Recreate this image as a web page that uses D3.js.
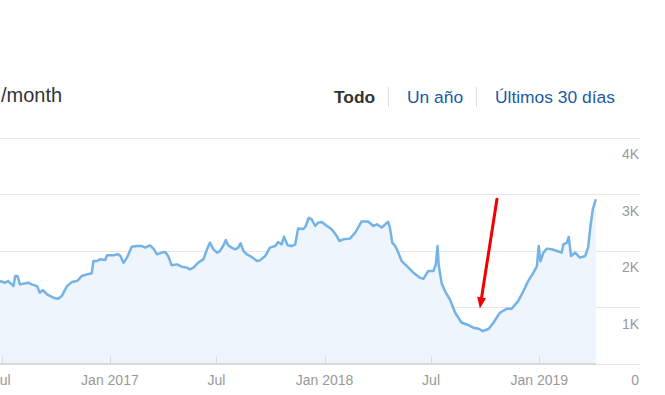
<!DOCTYPE html>
<html>
<head>
<meta charset="utf-8">
<script src="https://cdn.jsdelivr.net/npm/d3@7"></script>
<style>
  body { margin: 0; background: #fff; }
  svg { display: block; font-family: Arial, "Liberation Sans", sans-serif; }
</style>
</head>
<body>
<svg id="chart" width="665" height="395"></svg>
<script>
// monthly visits
const dates = [
  "2016-06-23","2016-06-28","2016-07-07","2016-07-12","2016-07-21","2016-07-24","2016-07-28","2016-08-01","2016-08-15","2016-08-21",
  "2016-08-30","2016-09-04","2016-09-09","2016-09-16","2016-09-27","2016-10-05","2016-10-11","2016-10-20","2016-10-28","2016-11-06",
  "2016-11-14","2016-11-23","2016-12-01","2016-12-04","2016-12-10","2016-12-15","2016-12-24","2016-12-27",
  "2017-01-07","2017-01-15","2017-01-19","2017-01-24","2017-01-30","2017-02-07","2017-02-16","2017-02-24","2017-03-02","2017-03-10",
  "2017-03-16","2017-03-22","2017-03-30","2017-04-05","2017-04-10","2017-04-16","2017-04-25","2017-05-03","2017-05-12","2017-05-17",
  "2017-05-23","2017-05-31","2017-06-09","2017-06-15","2017-06-20","2017-06-26","2017-07-02","2017-07-07","2017-07-14","2017-07-17",
  "2017-07-21","2017-07-27","2017-08-02","2017-08-07","2017-08-11","2017-08-16","2017-08-22","2017-08-30","2017-09-08","2017-09-13",
  "2017-09-22","2017-09-30","2017-10-09","2017-10-14","2017-10-20","2017-10-24","2017-10-30","2017-11-06","2017-11-12","2017-11-17",
  "2017-11-26","2017-11-30","2017-12-05","2017-12-10","2017-12-16","2017-12-21","2017-12-27",
  "2018-01-05","2018-01-13","2018-01-22","2018-01-26","2018-02-02","2018-02-13","2018-02-22","2018-03-05","2018-03-16","2018-03-25",
  "2018-03-31","2018-04-08","2018-04-19","2018-04-22","2018-04-26","2018-05-01","2018-05-06","2018-05-12","2018-05-21","2018-06-01",
  "2018-06-12","2018-06-18","2018-06-26","2018-07-05","2018-07-09","2018-07-12","2018-07-14","2018-07-19","2018-07-26","2018-08-02",
  "2018-08-11","2018-08-22","2018-08-31","2018-09-11","2018-09-20","2018-09-27","2018-10-07","2018-10-15","2018-10-26","2018-11-07",
  "2018-11-15","2018-11-26","2018-12-05","2018-12-13","2018-12-22","2018-12-28","2018-12-31",
  "2019-01-03","2019-01-08","2019-01-14","2019-01-22","2019-01-31","2019-02-08","2019-02-11","2019-02-17","2019-02-20","2019-02-24",
  "2019-03-03","2019-03-11","2019-03-20","2019-03-25","2019-03-29","2019-04-02","2019-04-07"
];
const visits = [
  1456,1461,1432,1461,1372,1550,1550,1402,1432,1402,
  1372,1255,1301,1225,1166,1148,1195,1372,1443,1461,
  1550,1580,1598,1816,1816,1846,1834,1917,
  1917,1935,1905,1787,1876,2071,2082,2082,2054,2095,
  2036,1935,1965,1976,1905,1740,1757,1716,1699,1669,
  1699,1787,1846,2024,2142,2024,1965,1993,2112,2189,
  2095,2054,2024,2054,2130,1993,1935,1887,1816,1828,
  1905,2054,2082,2153,2112,2249,2095,2082,2112,2391,
  2384,2437,2583,2556,2437,2497,2508,
  2437,2379,2254,2171,2201,2213,2320,2517,2517,2437,
  2467,2409,2512,2409,2142,2082,1970,1816,1727,1610,
  1521,1500,1638,1638,1757,2082,1740,1420,1255,1136,
  900,722,692,634,616,573,616,722,900,971,
  971,1106,1283,1461,1610,1727,2082,
  1811,1965,2036,2024,1993,1965,2112,2142,2245,1905,
  1965,1876,1905,2054,2437,2734,2911
];

const yTicks = [0, 1000, 2000, 3000, 4000];
const yTickLabels = ["0", "1K", "2K", "3K", "4K"];
const xTicks = ["2016-07-01", "2017-01-01", "2017-07-01", "2018-01-01", "2018-07-01", "2019-01-01"];
const xTickLabels = ["Jul", "Jan 2017", "Jul", "Jan 2018", "Jul", "Jan 2019"];

const rangeButtons = ["Todo", "Un año", "Últimos 30 días"];
const titleText = "/month";

// red arrow annotation: [date, value] from -> to
const arrowFrom = ["2018-10-21", 2911];
const arrowTo = ["2018-09-22", 976];

const parse = d3.timeParse("%Y-%m-%d");
const data = dates.map((d, i) => ({ date: parse(d), value: visits[i] }));

const svg = d3.select("#chart");

const plotRight = 596;
const gridRight = 640;

const x = d3.scaleTime()
  .domain([parse("2016-07-01"), parse("2019-01-01")])
  .range([1.7, 539.3]);
const y = d3.scaleLinear()
  .domain([0, 4000])
  .range([363.5, 137.8]);

// gridlines
svg.append("g")
  .selectAll("line")
  .data(yTicks.filter((t) => t > 0))
  .join("line")
  .attr("x1", 0)
  .attr("x2", gridRight)
  .attr("y1", (d) => Math.round(y(d)) + 0.5)
  .attr("y2", (d) => Math.round(y(d)) + 0.5)
  .attr("stroke", "#e6e6e6")
  .attr("stroke-width", 1);

// light line for 0 beyond the plot
svg.append("line")
  .attr("x1", plotRight).attr("x2", gridRight)
  .attr("y1", Math.round(y(0)) + 0.5).attr("y2", Math.round(y(0)) + 0.5)
  .attr("stroke", "#e6e6e6");

// area + line
const area = d3.area()
  .x((d) => x(d.date))
  .y0(y(0))
  .y1((d) => y(d.value));
const line = d3.line()
  .x((d) => x(d.date))
  .y((d) => y(d.value));

svg.append("path")
  .datum(data)
  .attr("d", area)
  .attr("fill", "#eef5fd");

svg.append("path")
  .datum(data)
  .attr("d", line)
  .attr("fill", "none")
  .attr("stroke", "#74b3e6")
  .attr("stroke-width", 2.5)
  .attr("stroke-linejoin", "round");

// x axis baseline and ticks (ticks point upward)
svg.append("line")
  .attr("x1", 0).attr("x2", plotRight)
  .attr("y1", y(0) + 0.5).attr("y2", y(0) + 0.5)
  .attr("stroke", "#d9d9d9")
  .attr("stroke-width", 2);

svg.append("g")
  .selectAll("line")
  .data(xTicks)
  .join("line")
  .attr("x1", (d) => Math.round(x(parse(d))) + 0.5)
  .attr("x2", (d) => Math.round(x(parse(d))) + 0.5)
  .attr("y1", y(0) - 7)
  .attr("y2", y(0))
  .attr("stroke", "#d9d9d9")
  .attr("stroke-width", 1);

svg.append("g")
  .selectAll("text")
  .data(xTicks)
  .join("text")
  .attr("x", (d) => x(parse(d)))
  .attr("y", 385)
  .attr("text-anchor", "middle")
  .attr("font-size", 14)
  .attr("fill", "#999")
  .text((d, i) => xTickLabels[i]);

// y labels, sitting below their gridlines on the right
svg.append("g")
  .selectAll("text")
  .data(yTicks)
  .join("text")
  .attr("x", 639)
  .attr("y", (d) => y(d) + 21.5)
  .attr("text-anchor", "end")
  .attr("font-size", 14)
  .attr("fill", "#999")
  .text((d, i) => yTickLabels[i]);

// red arrow
const ax0 = x(parse(arrowFrom[0])), ay0 = y(arrowFrom[1]);
const ax1 = x(parse(arrowTo[0])), ay1 = y(arrowTo[1]);
const ang = Math.atan2(ay1 - ay0, ax1 - ax0);
const headLen = 11, headHalf = 4.5;
const bx = ax1 - headLen * Math.cos(ang), by = ay1 - headLen * Math.sin(ang);
svg.append("line")
  .attr("x1", ax0).attr("y1", ay0)
  .attr("x2", bx).attr("y2", by)
  .attr("stroke", "#f20000")
  .attr("stroke-width", 3)
  .attr("stroke-linecap", "round");
svg.append("polygon")
  .attr("points", [
    [ax1, ay1],
    [bx + headHalf * Math.sin(ang), by - headHalf * Math.cos(ang)],
    [bx - headHalf * Math.sin(ang), by + headHalf * Math.cos(ang)],
  ].map((p) => p.join(",")).join(" "))
  .attr("fill", "#f20000");

// title, cut on the left like the reference
svg.append("text")
  .attr("x", 1)
  .attr("y", 102)
  .attr("font-size", 20)
  .attr("fill", "#333")
  .text(titleText);

// range switcher
const btns = svg.append("g");
let bxPos = 334;
rangeButtons.forEach((label, i) => {
  const t = btns.append("text")
    .attr("x", bxPos)
    .attr("y", 103)
    .attr("font-size", 17.4)
    .attr("font-weight", i === 0 ? "bold" : "normal")
    .attr("fill", i === 0 ? "#333" : "#1d5aa6")
    .text(label);
  const w = t.node().getComputedTextLength();
  if (i < rangeButtons.length - 1) {
    const sx = Math.round(bxPos + w + 13) + 0.5;
    btns.append("line")
      .attr("x1", sx).attr("x2", sx)
      .attr("y1", 87).attr("y2", 107)
      .attr("stroke", "#ddd");
    bxPos = sx + 18.5;
  }
});
</script>
</body>
</html>
